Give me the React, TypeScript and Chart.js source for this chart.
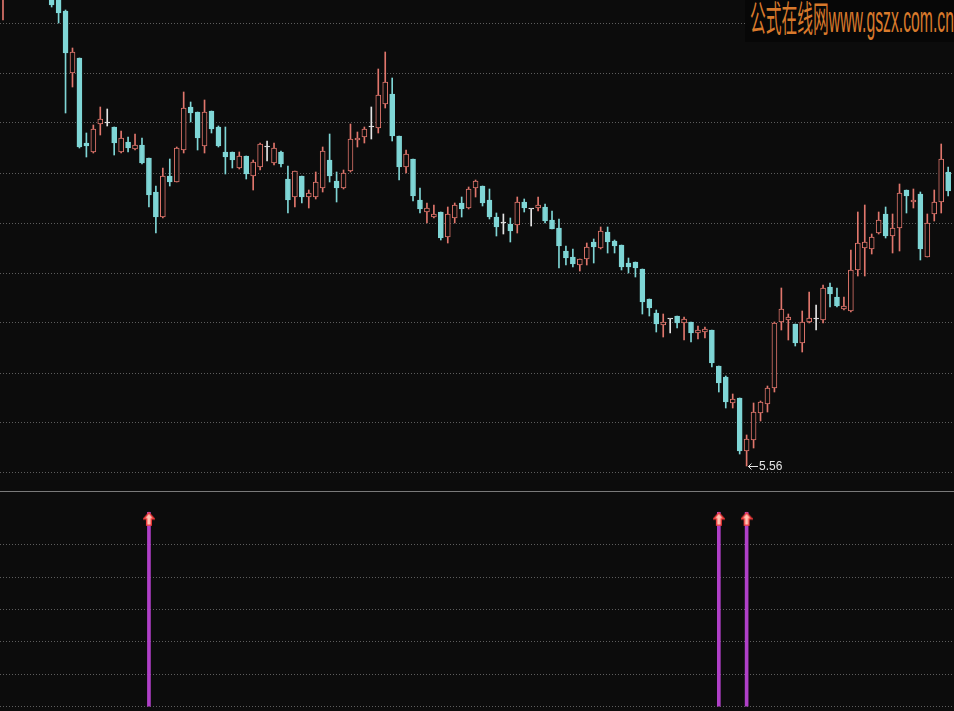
import React, { useEffect, useRef } from "react";
import { Chart, registerables } from "chart.js";

Chart.register(...registerables);

// ---------- data (index = trading day, left to right) ----------
const opens: (number | null)[] = [
  10.29, null, null, null, null, null, null, 10.29, 10.29, 10.11,
  9.49, 9.64, 8.79, 8.70, 8.98, 8.99, 8.95, 8.70, 8.80, 8.73,
  8.77, 8.64, 8.30, 8.05, 8.46, 8.40, 8.72, 9.15, 9.10, 8.76,
  9.11, 8.95, 8.70, 8.70, 8.54, 8.66, 8.46, 8.55, 8.75, 8.59,
  8.70, 8.43, 8.25, 8.46, 8.25, 8.25, 8.34, 8.62, 8.41, 8.34,
  8.51, 8.82, 8.85, 8.95, 8.94, 9.18, 9.28, 8.86, 8.55, 8.63,
  8.22, 8.10, 8.05, 8.10, 7.85, 8.04, 8.19, 8.14, 8.34, 8.36,
  8.22, 8.05, 7.99, 7.98, 7.97, 8.20, 8.13, 8.14, 8.15, 8.02,
  7.94, 7.71, 7.65, 7.57, 7.63, 7.80, 7.74, 7.90, 7.81, 7.77,
  7.59, 7.60, 7.53, 7.23, 7.09, 6.97, 7.03, 7.06, 6.99, 7.00,
  6.89, 6.90, 6.92, 6.56, 6.45, 6.19, 6.24, 5.71, 5.82, 6.09,
  6.18, 6.34, 7.00, 7.02, 6.98, 6.79, 7.00, 7.03, 7.02, 7.35,
  7.25, 7.13, 7.11, 7.52, 7.74, 7.73, 7.89, 8.08, 7.86, 7.94,
  8.32, 8.20, 8.28, 7.65, 8.08, 8.20, 8.50,
];
const highs: (number | null)[] = [
  10.49, null, null, null, null, null, null, 10.34, 10.34, 10.12,
  9.74, 9.64, 8.89, 8.97, 9.15, 9.13, 8.95, 8.91, 8.85, 8.88,
  8.84, 8.64, 8.36, 8.54, 8.63, 8.75, 9.30, 9.20, 9.10, 9.22,
  9.11, 8.96, 8.95, 8.70, 8.70, 8.66, 8.62, 8.79, 8.81, 8.79,
  8.71, 8.56, 8.51, 8.46, 8.32, 8.50, 8.75, 8.88, 8.50, 8.52,
  8.98, 8.90, 8.95, 9.15, 9.53, 9.70, 9.44, 8.86, 8.72, 8.63,
  8.34, 8.19, 8.17, 8.10, 8.15, 8.19, 8.25, 8.35, 8.42, 8.36,
  8.33, 8.09, 8.08, 8.04, 8.25, 8.23, 8.13, 8.25, 8.18, 8.11,
  8.03, 7.76, 7.73, 7.63, 7.79, 7.83, 7.95, 7.95, 7.82, 7.77,
  7.64, 7.60, 7.53, 7.23, 7.12, 7.08, 7.03, 7.06, 7.05, 7.00,
  6.96, 6.95, 6.92, 6.56, 6.46, 6.28, 6.24, 5.87, 6.19, 6.21,
  6.36, 7.00, 7.34, 7.08, 6.98, 7.11, 7.30, 7.17, 7.37, 7.39,
  7.34, 7.25, 7.72, 8.10, 8.17, 7.88, 8.10, 8.15, 8.08, 8.38,
  8.32, 8.33, 8.30, 8.08, 8.32, 8.78, 8.55,
];
const lows: (number | null)[] = [
  10.02, null, null, null, null, null, null, 10.15, 9.99, 9.09,
  9.35, 8.74, 8.65, 8.69, 8.87, 8.96, 8.67, 8.69, 8.70, 8.72,
  8.58, 8.15, 7.89, 8.04, 8.36, 8.40, 8.69, 9.00, 8.72, 8.69,
  8.89, 8.75, 8.48, 8.54, 8.53, 8.43, 8.32, 8.52, 8.61, 8.57,
  8.55, 8.09, 8.15, 8.19, 8.14, 8.23, 8.30, 8.40, 8.20, 8.33,
  8.50, 8.75, 8.79, 8.83, 8.89, 9.14, 8.81, 8.42, 8.49, 8.21,
  8.09, 7.99, 8.04, 7.82, 7.79, 7.99, 8.05, 8.13, 8.25, 8.16,
  8.03, 7.86, 7.88, 7.80, 7.89, 8.10, 7.96, 8.11, 7.99, 7.93,
  7.54, 7.57, 7.55, 7.51, 7.57, 7.59, 7.73, 7.69, 7.69, 7.52,
  7.49, 7.45, 7.08, 7.06, 6.90, 6.85, 6.89, 6.94, 6.82, 6.80,
  6.83, 6.84, 6.55, 6.30, 6.14, 6.14, 5.68, 5.56, 5.74, 6.01,
  6.10, 6.30, 6.92, 6.82, 6.76, 6.70, 6.99, 6.92, 6.99, 7.15,
  7.15, 7.12, 7.10, 7.46, 7.46, 7.68, 7.88, 7.84, 7.69, 7.71,
  8.09, 8.14, 7.62, 7.65, 8.01, 8.09, 8.26,
];
const closes: (number | null)[] = [
  10.44, null, null, null, null, null, null, 10.17, 10.09, 9.69,
  9.70, 8.75, 8.76, 8.93, 9.03, 8.99, 8.79, 8.84, 8.74, 8.77,
  8.59, 8.27, 8.05, 8.46, 8.40, 8.74, 9.14, 9.09, 8.84, 9.10,
  8.93, 8.76, 8.65, 8.62, 8.66, 8.48, 8.60, 8.78, 8.75, 8.74,
  8.58, 8.22, 8.51, 8.25, 8.29, 8.40, 8.71, 8.46, 8.34, 8.49,
  8.83, 8.84, 8.93, 8.95, 9.27, 9.40, 8.86, 8.55, 8.68, 8.26,
  8.13, 8.14, 8.08, 7.84, 8.08, 8.17, 8.13, 8.33, 8.41, 8.19,
  8.05, 7.95, 7.99, 7.91, 8.20, 8.14, 8.13, 8.17, 8.01, 7.93,
  7.76, 7.64, 7.58, 7.63, 7.75, 7.75, 7.91, 7.80, 7.76, 7.55,
  7.55, 7.54, 7.20, 7.14, 6.98, 7.00, 7.03, 6.99, 7.03, 6.89,
  6.92, 6.93, 6.59, 6.39, 6.20, 6.23, 5.71, 5.83, 6.10, 6.20,
  6.34, 6.99, 7.13, 7.05, 6.79, 7.00, 7.04, 7.03, 7.34, 7.28,
  7.16, 7.16, 7.52, 7.79, 7.80, 7.85, 8.02, 7.86, 7.94, 8.29,
  8.26, 8.22, 7.73, 7.99, 8.20, 8.63, 8.31,
];

// signal panel: bars rising to the arrow level on signal days
const signalIndex = [21, 103, 107];
const signalValue = [6, 6, 6];

// dotted grid levels
const priceGrid = [9.99, 9.49, 8.99, 8.49, 7.99, 7.49, 6.99, 6.49, 5.99, 5.49];
const signalGrid = [0, 1, 2, 3, 4, 5];

const watermarkText = "公式在线网www.gszx.com.cn";

// ---------- styles ----------
const BG = "#0c0c0c";
const RED = "#e0766c";
const CYAN = "#7fd6d6";
const WHITE = "#e4e4e4";
const GRID = "#5e5e5e";
const SEP = "#7a7a7a";
const MAGENTA = "#b040c8";

const X_MIN = -0.43;
const X_MAX = 136.84;

function candleColor(i: number): string {
  const o = opens[i] as number;
  const c = closes[i] as number;
  if (c > o) return RED;
  if (c < o) return CYAN;
  return WHITE;
}

function makeArrow(): HTMLCanvasElement {
  const c = document.createElement("canvas");
  c.width = 12;
  c.height = 28;
  const g = c.getContext("2d")!;
  g.beginPath();
  g.moveTo(6, 14.5);
  g.lineTo(11.2, 20.5);
  g.lineTo(8.3, 20.5);
  g.lineTo(8.3, 27);
  g.lineTo(3.7, 27);
  g.lineTo(3.7, 20.5);
  g.lineTo(0.8, 20.5);
  g.closePath();
  g.fillStyle = "#ffc4b4";
  g.fill();
  g.strokeStyle = "#f03a3a";
  g.lineWidth = 1.4;
  g.stroke();
  return c;
}

const lowLabelPlugin = {
  id: "lowLabel",
  afterDatasetsDraw(chart: any) {
    let mi = -1;
    lows.forEach((v, i) => {
      if (v !== null && (mi < 0 || v < (lows[mi] as number))) mi = i;
    });
    if (mi < 0) return;
    const x = Math.round(chart.scales.x.getPixelForValue(mi));
    const y = Math.round(chart.scales.y.getPixelForValue(lows[mi]));
    const ctx = chart.ctx;
    ctx.save();
    ctx.strokeStyle = WHITE;
    ctx.lineWidth = 1;
    ctx.beginPath();
    ctx.moveTo(x + 1, y + 0.5);
    ctx.lineTo(x + 11, y + 0.5);
    ctx.moveTo(x + 4.5, y - 2.5);
    ctx.lineTo(x + 1.5, y + 0.5);
    ctx.lineTo(x + 4.5, y + 3.5);
    ctx.stroke();
    ctx.fillStyle = WHITE;
    ctx.font = '12px "Liberation Sans", Arial, sans-serif';
    ctx.textBaseline = "middle";
    ctx.fillText((lows[mi] as number).toFixed(2), x + 12, y + 1);
    ctx.restore();
  },
};

const xScale = {
  type: "linear",
  min: X_MIN,
  max: X_MAX,
  offset: false,
  bounds: "ticks",
  display: false,
};

export default function App() {
  const topRef = useRef<HTMLCanvasElement>(null);
  const botRef = useRef<HTMLCanvasElement>(null);

  useEffect(() => {
    document.body.style.margin = "0";
    document.body.style.background = BG;

    const idx = opens.map((_, i) => i).filter((i) => opens[i] !== null);
    const bodyData = idx.map((i) => ({ x: i, y: [opens[i], closes[i]] }));
    const wickData = idx.map((i) => ({ x: i, y: [lows[i], highs[i]] }));

    const top = new Chart(topRef.current!, {
      type: "bar",
      data: {
        datasets: [
          {
            data: wickData as any,
            barThickness: 1,
            borderWidth: 0,
            grouped: false,
            order: 2,
            backgroundColor: (c: any) => (c.raw ? candleColor(c.raw.x) : WHITE),
          } as any,
          {
            data: bodyData as any,
            barThickness: 5,
            borderWidth: 1,
            borderSkipped: false,
            minBarLength: 1,
            grouped: false,
            order: 1,
            borderColor: (c: any) => (c.raw ? candleColor(c.raw.x) : WHITE),
            backgroundColor: (c: any) => {
              if (!c.raw) return BG;
              const col = candleColor(c.raw.x);
              return col === RED ? BG : col;
            },
          } as any,
        ],
      },
      options: {
        responsive: false,
        animation: false,
        events: [],
        layout: { padding: 0, autoPadding: false },
        plugins: { legend: { display: false }, tooltip: { enabled: false } },
        scales: {
          x: { ...xScale },
          y: {
            type: "linear",
            min: 5.31,
            max: 10.22,
            ticks: { display: false },
            grid: { color: GRID, drawTicks: false, lineWidth: 1 },
            border: { display: false, dash: [1, 2] },
            afterBuildTicks: (s: any) => {
              s.ticks = priceGrid.map((v) => ({ value: v }));
            },
            afterFit: (s: any) => {
              s.width = 0;
            },
          },
        },
      } as any,
      plugins: [lowLabelPlugin],
    });

    const sigData = signalIndex.map((i, k) => ({ x: i, y: signalValue[k] }));
    const arrow = makeArrow();
    const bot = new Chart(botRef.current!, {
      type: "bar",
      data: {
        datasets: [
          {
            type: "scatter",
            data: sigData,
            pointStyle: arrow,
            pointRadius: 5,
            order: 0,
            clip: false,
          } as any,
          {
            data: sigData as any,
            barThickness: 3,
            backgroundColor: MAGENTA,
            borderWidth: 0,
            grouped: false,
            order: 1,
          } as any,
        ],
      },
      options: {
        responsive: false,
        animation: false,
        events: [],
        layout: { padding: 0, autoPadding: false },
        plugins: { legend: { display: false }, tooltip: { enabled: false } },
        scales: {
          x: { ...xScale },
          y: {
            type: "linear",
            min: -0.133,
            max: 6.627,
            ticks: { display: false },
            grid: { color: GRID, drawTicks: false, lineWidth: 1 },
            border: { display: false, dash: [1, 2] },
            afterBuildTicks: (s: any) => {
              s.ticks = signalGrid.map((v) => ({ value: v }));
            },
            afterFit: (s: any) => {
              s.width = 0;
            },
          },
        },
      } as any,
    });

    return () => {
      top.destroy();
      bot.destroy();
    };
  }, []);

  return (
    <div style={{ position: "relative", width: 954, height: 711, background: BG, overflow: "hidden" }}>
      <canvas ref={topRef} width={954} height={491} style={{ display: "block" }} />
      <div style={{ height: 1, background: SEP }} />
      <canvas ref={botRef} width={954} height={219} style={{ display: "block" }} />
      <svg
        width={209}
        height={42}
        style={{ position: "absolute", left: 745, top: 0 }}
      >
        <rect x={0} y={0} width={209} height={42} fill="#070707" />
        <text
          x={5}
          y={32}
          fontSize={36}
          fill="#d97a2c"
          fontFamily='"Liberation Sans", "Noto Sans CJK SC", sans-serif'
          textLength={204}
          lengthAdjust="spacingAndGlyphs"
        >
          {watermarkText}
        </text>
      </svg>
    </div>
  );
}
